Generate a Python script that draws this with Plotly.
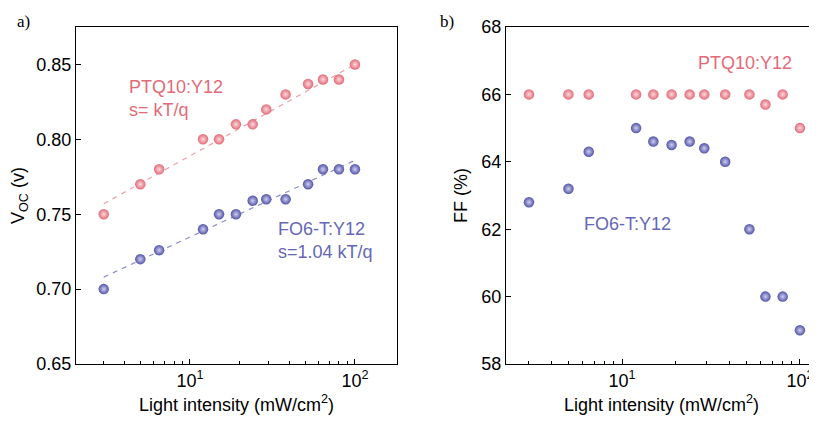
import plotly.graph_objects as go

intensity = [3, 5, 6.5, 12, 15, 19, 24, 29, 38, 52, 64, 80, 100]
voc_ptq = [0.750, 0.770, 0.780, 0.800, 0.800, 0.810, 0.810, 0.820, 0.830, 0.837, 0.840, 0.840, 0.850]
voc_fo6 = [0.700, 0.720, 0.726, 0.740, 0.750, 0.750, 0.759, 0.760, 0.760, 0.770, 0.780, 0.780, 0.780]
ff_ptq = [66.0, 66.0, 66.0, 66.0, 66.0, 66.0, 66.0, 66.0, 66.0, 66.0, 65.7, 66.0, 65.0]
ff_fo6 = [62.8, 63.2, 64.3, 65.0, 64.6, 64.5, 64.6, 64.4, 64.0, 62.0, 60.0, 60.0, 59.0]
fit_x = [3, 100]
fit_ptq = [0.757, 0.850]
fit_fo6 = [0.708, 0.786]

RED = "#E36A78"
RED_L = "#FAD9DD"
BLUE = "#5253A6"
BLUE_L = "#CDCEF0"
FONT = "Liberation Sans, Arial, sans-serif"
SERIF = "Liberation Serif, Times New Roman, serif"

fig = go.Figure()

def balls(x, y, c, cl, xa, ya):
    return go.Scatter(x=x, y=y, mode="markers", xaxis=xa, yaxis=ya,
                      marker=dict(size=10.5, color=c, line=dict(width=0),
                                  gradient=dict(type="radial", color=cl)),
                      showlegend=False, hoverinfo="x+y")

fig.add_trace(go.Scatter(x=fit_x, y=fit_ptq, mode="lines", xaxis="x", yaxis="y",
                         line=dict(color="#F0A0A8", width=1.2, dash="5px,5px"), showlegend=False))
fig.add_trace(go.Scatter(x=fit_x, y=fit_fo6, mode="lines", xaxis="x", yaxis="y",
                         line=dict(color="#8C8DCB", width=1.2, dash="5px,5px"), showlegend=False))
fig.add_trace(balls(intensity, voc_ptq, RED, RED_L, "x", "y"))
fig.add_trace(balls(intensity, voc_fo6, BLUE, BLUE_L, "x", "y"))
fig.add_trace(balls(intensity, ff_ptq, RED, RED_L, "x2", "y2"))
fig.add_trace(balls(intensity, ff_fo6, BLUE, BLUE_L, "x2", "y2"))

minor_vals = [2, 3, 4, 5, 6, 7, 8, 9, 20, 30, 40, 50, 60, 70, 80, 90, 200]

def xaxis(domain, rng, anchor):
    return dict(domain=domain, type="log", range=rng, anchor=anchor, automargin=False,
                tickvals=[10, 100], ticktext=["10<sup>1</sup>", "10<sup>2</sup>"],
                ticklabeloverflow="allow",
                ticks="inside", ticklen=5, tickwidth=1, tickcolor="black",
                minor=dict(tickvals=minor_vals, ticks="inside", ticklen=3, tickwidth=1,
                           tickcolor="black", showgrid=False),
                showline=True, linecolor="black", linewidth=1.3, mirror=True,
                showgrid=False, zeroline=False,
                tickfont=dict(family=FONT, size=18, color="black"),
                title=dict(text="Light intensity (mW/cm<sup>2</sup>)", standoff=14,
                           font=dict(family=FONT, size=18, color="black")))

fig.update_layout(
    width=809, height=407,
    margin=dict(l=0, r=0, t=19, b=51),
    paper_bgcolor="white", plot_bgcolor="white",
    xaxis=xaxis([68 / 809, 389 / 809], [0.309, 2.255], "y"),
    xaxis2=xaxis([498 / 809, 1.0], [0.348, 2.096], "y2"),
    yaxis=dict(domain=[0, 1], range=[0.65, 0.875], anchor="x", automargin=False,
               tickvals=[0.65, 0.70, 0.75, 0.80, 0.85],
               ticktext=["0.65", "0.70", "0.75", "0.80", "0.85"],
               ticks="inside", ticklen=5, tickcolor="black",
               showline=True, linecolor="black", linewidth=1.3, mirror=True,
               showgrid=False, zeroline=False,
               tickfont=dict(family=FONT, size=18, color="black"),
               title=dict(text="V<sub>OC</sub> (v)", standoff=8,
                          font=dict(family=FONT, size=18, color="black"))),
    yaxis2=dict(domain=[0, 1], range=[58, 68], anchor="x2", automargin=False,
                tickvals=[58, 60, 62, 64, 66, 68],
                ticks="inside", ticklen=5, tickcolor="black",
                showline=True, linecolor="black", linewidth=1.3, mirror=False,
                showgrid=False, zeroline=False,
                tickfont=dict(family=FONT, size=18, color="black"),
                title=dict(text="FF (%)", standoff=8,
                           font=dict(family=FONT, size=18, color="black"))),
    annotations=[
        dict(text="PTQ10:Y12<br>s= kT/q", x=119 / 809, y=0.788, xref="paper", yref="paper",
             xanchor="left", yanchor="middle", align="left", showarrow=False,
             font=dict(family=FONT, size=18, color=RED)),
        dict(text="FO6-T:Y12<br>s=1.04 kT/q", x=268 / 809, y=0.365, xref="paper", yref="paper",
             xanchor="left", yanchor="middle", align="left", showarrow=False,
             font=dict(family=FONT, size=18, color="#6667B6")),
        dict(text="PTQ10:Y12", x=688 / 809, y=0.893, xref="paper", yref="paper",
             xanchor="left", yanchor="middle", showarrow=False,
             font=dict(family=FONT, size=18, color=RED)),
        dict(text="FO6-T:Y12", x=574 / 809, y=0.415, xref="paper", yref="paper",
             xanchor="left", yanchor="middle", showarrow=False,
             font=dict(family=FONT, size=18, color="#6667B6")),
        dict(text="a)", x=7 / 809, y=1.015, xref="paper", yref="paper",
             xanchor="left", yanchor="middle", showarrow=False,
             font=dict(family=SERIF, size=17, color="black")),
        dict(text="b)", x=430 / 809, y=1.015, xref="paper", yref="paper",
             xanchor="left", yanchor="middle", showarrow=False,
             font=dict(family=SERIF, size=17, color="black")),
    ],
)

fig.write_html("out.html")
